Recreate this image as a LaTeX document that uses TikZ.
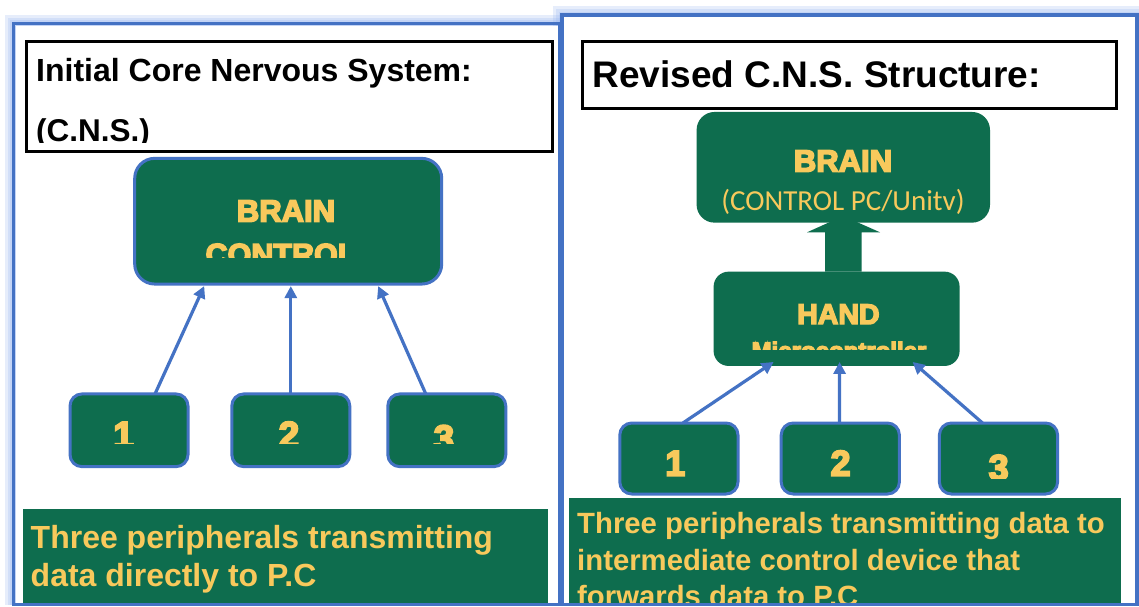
\documentclass[tikz,border=0pt]{standalone}
\usepackage{fontspec}
\setmainfont{Liberation Sans}
\newfontfamily\calib{Carlito}
\newfontfamily\heavy[FakeBold=5]{Liberation Sans Bold}
\usetikzlibrary{arrows.meta}
\definecolor{dgreen}{HTML}{0E6D4E}
\definecolor{gold}{HTML}{F8C95C}
\definecolor{bblue}{HTML}{4472C4}
\definecolor{glowc}{HTML}{8FB0F0}
\tikzset{
  panelframe/.style={draw=bblue, line width=3.5pt},
  glowline/.style={draw=glowc, line width=#1, opacity=0.22},
  titlebox/.style={draw=black, line width=3pt, fill=white, inner sep=0pt, outer sep=0pt},
  bluebox/.style={fill=dgreen, draw=bblue, line width=3pt, rounded corners=#1, inner sep=0pt, outer sep=0pt},
  plainbox/.style={fill=dgreen, rounded corners=#1, inner sep=0pt, outer sep=0pt},
  textbox/.style={fill=dgreen, inner sep=0pt, outer sep=0pt},
  lbl/.style={text=gold, inner sep=0pt, anchor=base, font=\heavy\fontsize{#1}{#1}\selectfont},
  ttl/.style={text=black, inner sep=0pt, anchor=base west, font=\bfseries\fontsize{#1}{#1}\selectfont},
  para/.style={text=gold, inner sep=0pt, anchor=base west, font=\bfseries\fontsize{#1}{#1}\selectfont},
  arr/.style={draw=bblue, line width=3.2pt, -{Triangle[length=12pt,width=12pt]}},
}
\begin{document}
\begin{tikzpicture}[x=1pt,y=-1pt]
\useasboundingbox (0,0) rectangle (1139,606);
\clip (0,0) rectangle (1139,606);
\fill[white] (0,0) rectangle (1139,606);
% ---------- glows ----------
\foreach \w in {18,12,7}{
  \draw[glowline=\w pt] (13.5,604.5) -- (13.5,23.5) -- (560,23.5) -- (560,604.5);
  \draw[glowline=\w pt] (562,604.5) -- (562,15) -- (1137,15) -- (1137,604.5);
}
\fill[white] (16,26) rectangle (558,603);
\fill[white] (564,17) rectangle (1135,603);
% ---------- left panel ----------
\node[titlebox, minimum width=526pt, minimum height=110pt] (titleL) at (289,96.7) {};
\node[ttl=32] (t1) at (36,81.7) {Initial Core Nervous System:};
\begin{scope}
  \clip (27,43) rectangle (550,142.3);
  \node[ttl=31.5] (t2) at (36,141.3) {(C.N.S.)};
\end{scope}

\node[bluebox=20pt, minimum width=307pt, minimum height=125.7pt] (brainL) at (288.2,221.2) {};
\node[lbl=31] (brainLt) at (286,221.7) {BRAIN};
\begin{scope}
  \clip (136,160) rectangle (440,257.7);
  \node[lbl=30.5] (ctrlL) at (281,265) {CONTROL};
\end{scope}

\node[bluebox=12pt, minimum width=118pt, minimum height=72.7pt] (pL1) at (129,430.3) {};
\node[bluebox=12pt, minimum width=118pt, minimum height=72.7pt] (pL2) at (290.8,430.3) {};
\node[bluebox=12pt, minimum width=118pt, minimum height=72.7pt] (pL3) at (446.8,430.3) {};
\begin{scope}
  \clip (60,400) rectangle (520,443.3);
  \node[lbl=37] (nL1) at (123.6,447.5) {1};
  \node[lbl=37] (nL2) at (289,447.5) {2};
  \node[lbl=37] (nL3) at (444,451) {3};
\end{scope}

\draw[arr] ([xshift=26pt]pL1.north) -- ([xshift=-84pt,yshift=-2pt]brainL.south);
\draw[arr] (pL2.north) -- ([xshift=2.6pt,yshift=-2pt]brainL.south);
\draw[arr] ([xshift=-21pt]pL3.north) -- ([xshift=90pt,yshift=-2pt]brainL.south);

\node[textbox, minimum width=525pt, minimum height=96pt] (descL) at (285.5,557) {};
\node[para=32] (dL1) at (30.5,548.3) {Three peripherals transmitting};
\node[para=32] (dL2) at (30.5,586) {data directly to P.C};
\draw[panelframe] (13.5,604.5) -- (13.5,23.5) -- (560,23.5) -- (560,604.5) -- cycle;

% ---------- right panel ----------
\node[titlebox, minimum width=533.5pt, minimum height=66.6pt] (titleR) at (849.7,75) {};
\node[ttl=37] (t3) at (592.5,87.3) {Revised C.N.S. Structure:};

% block arrow HAND -> BRAIN
\fill[dgreen] (825,271.7) -- (825,232.3) -- (807,232.3) -- (843.3,216) -- (880,232.3) -- (861.7,232.3) -- (861.7,271.7) -- cycle;

\node[plainbox=18pt, minimum width=293.4pt, minimum height=110.7pt] (brainR) at (843.3,167.3) {};
\node[lbl=31] (brainRt) at (843,171.7) {BRAIN};
\node[text=gold, inner sep=0pt, anchor=base, font=\calib\fontsize{29}{29}\selectfont] (ctrlR) at (843,210.7) {(CONTROL PC/Unitv)};

\node[plainbox=15pt, minimum width=246pt, minimum height=94.3pt] (hand) at (836.6,318.8) {};
\node[lbl=28.5] (handt) at (838.4,324) {HAND};
\begin{scope}
  \clip (715,273) rectangle (958,349.3);
  \node[lbl=24] (micro) at (839,359) {Microcontroller};
\end{scope}

\node[bluebox=12pt, minimum width=118.2pt, minimum height=71pt] (pR1) at (678.9,458.5) {};
\node[bluebox=12pt, minimum width=118.2pt, minimum height=71pt] (pR2) at (840.3,458.5) {};
\node[bluebox=12pt, minimum width=118.2pt, minimum height=71pt] (pR3) at (998.5,458.5) {};
\node[lbl=36] (nR1) at (675.2,475.7) {1};
\node[lbl=36] (nR2) at (840.6,475.7) {2};
\begin{scope}
  \clip (940,430) rectangle (1056,478.3);
  \node[lbl=36] (nR3) at (998.7,480) {3};
\end{scope}

\draw[arr] ([xshift=4pt]pR1.north) -- ([xshift=-63pt,yshift=4pt]hand.south);
\draw[arr] ([xshift=-0.8pt]pR2.north) -- ([xshift=3pt,yshift=4pt]hand.south);
\draw[arr] ([xshift=-16pt]pR3.north) -- ([xshift=76pt,yshift=4pt]hand.south);

\node[textbox, minimum width=552pt, minimum height=106pt] (descR) at (845,551) {};
\begin{scope}
  \clip (569,498) rectangle (1121,602);
  \node[para=29.3] (dR1) at (577,533.3) {Three peripherals transmitting data to};
  \node[para=29.3] (dR2) at (577,570) {intermediate control device that};
  \node[para=29.3] (dR3) at (577,606.7) {forwards data to P.C};
\end{scope}
\draw[panelframe] (562,604.5) -- (562,15) -- (1137,15) -- (1137,604.5) -- cycle;
\end{tikzpicture}
\end{document}
